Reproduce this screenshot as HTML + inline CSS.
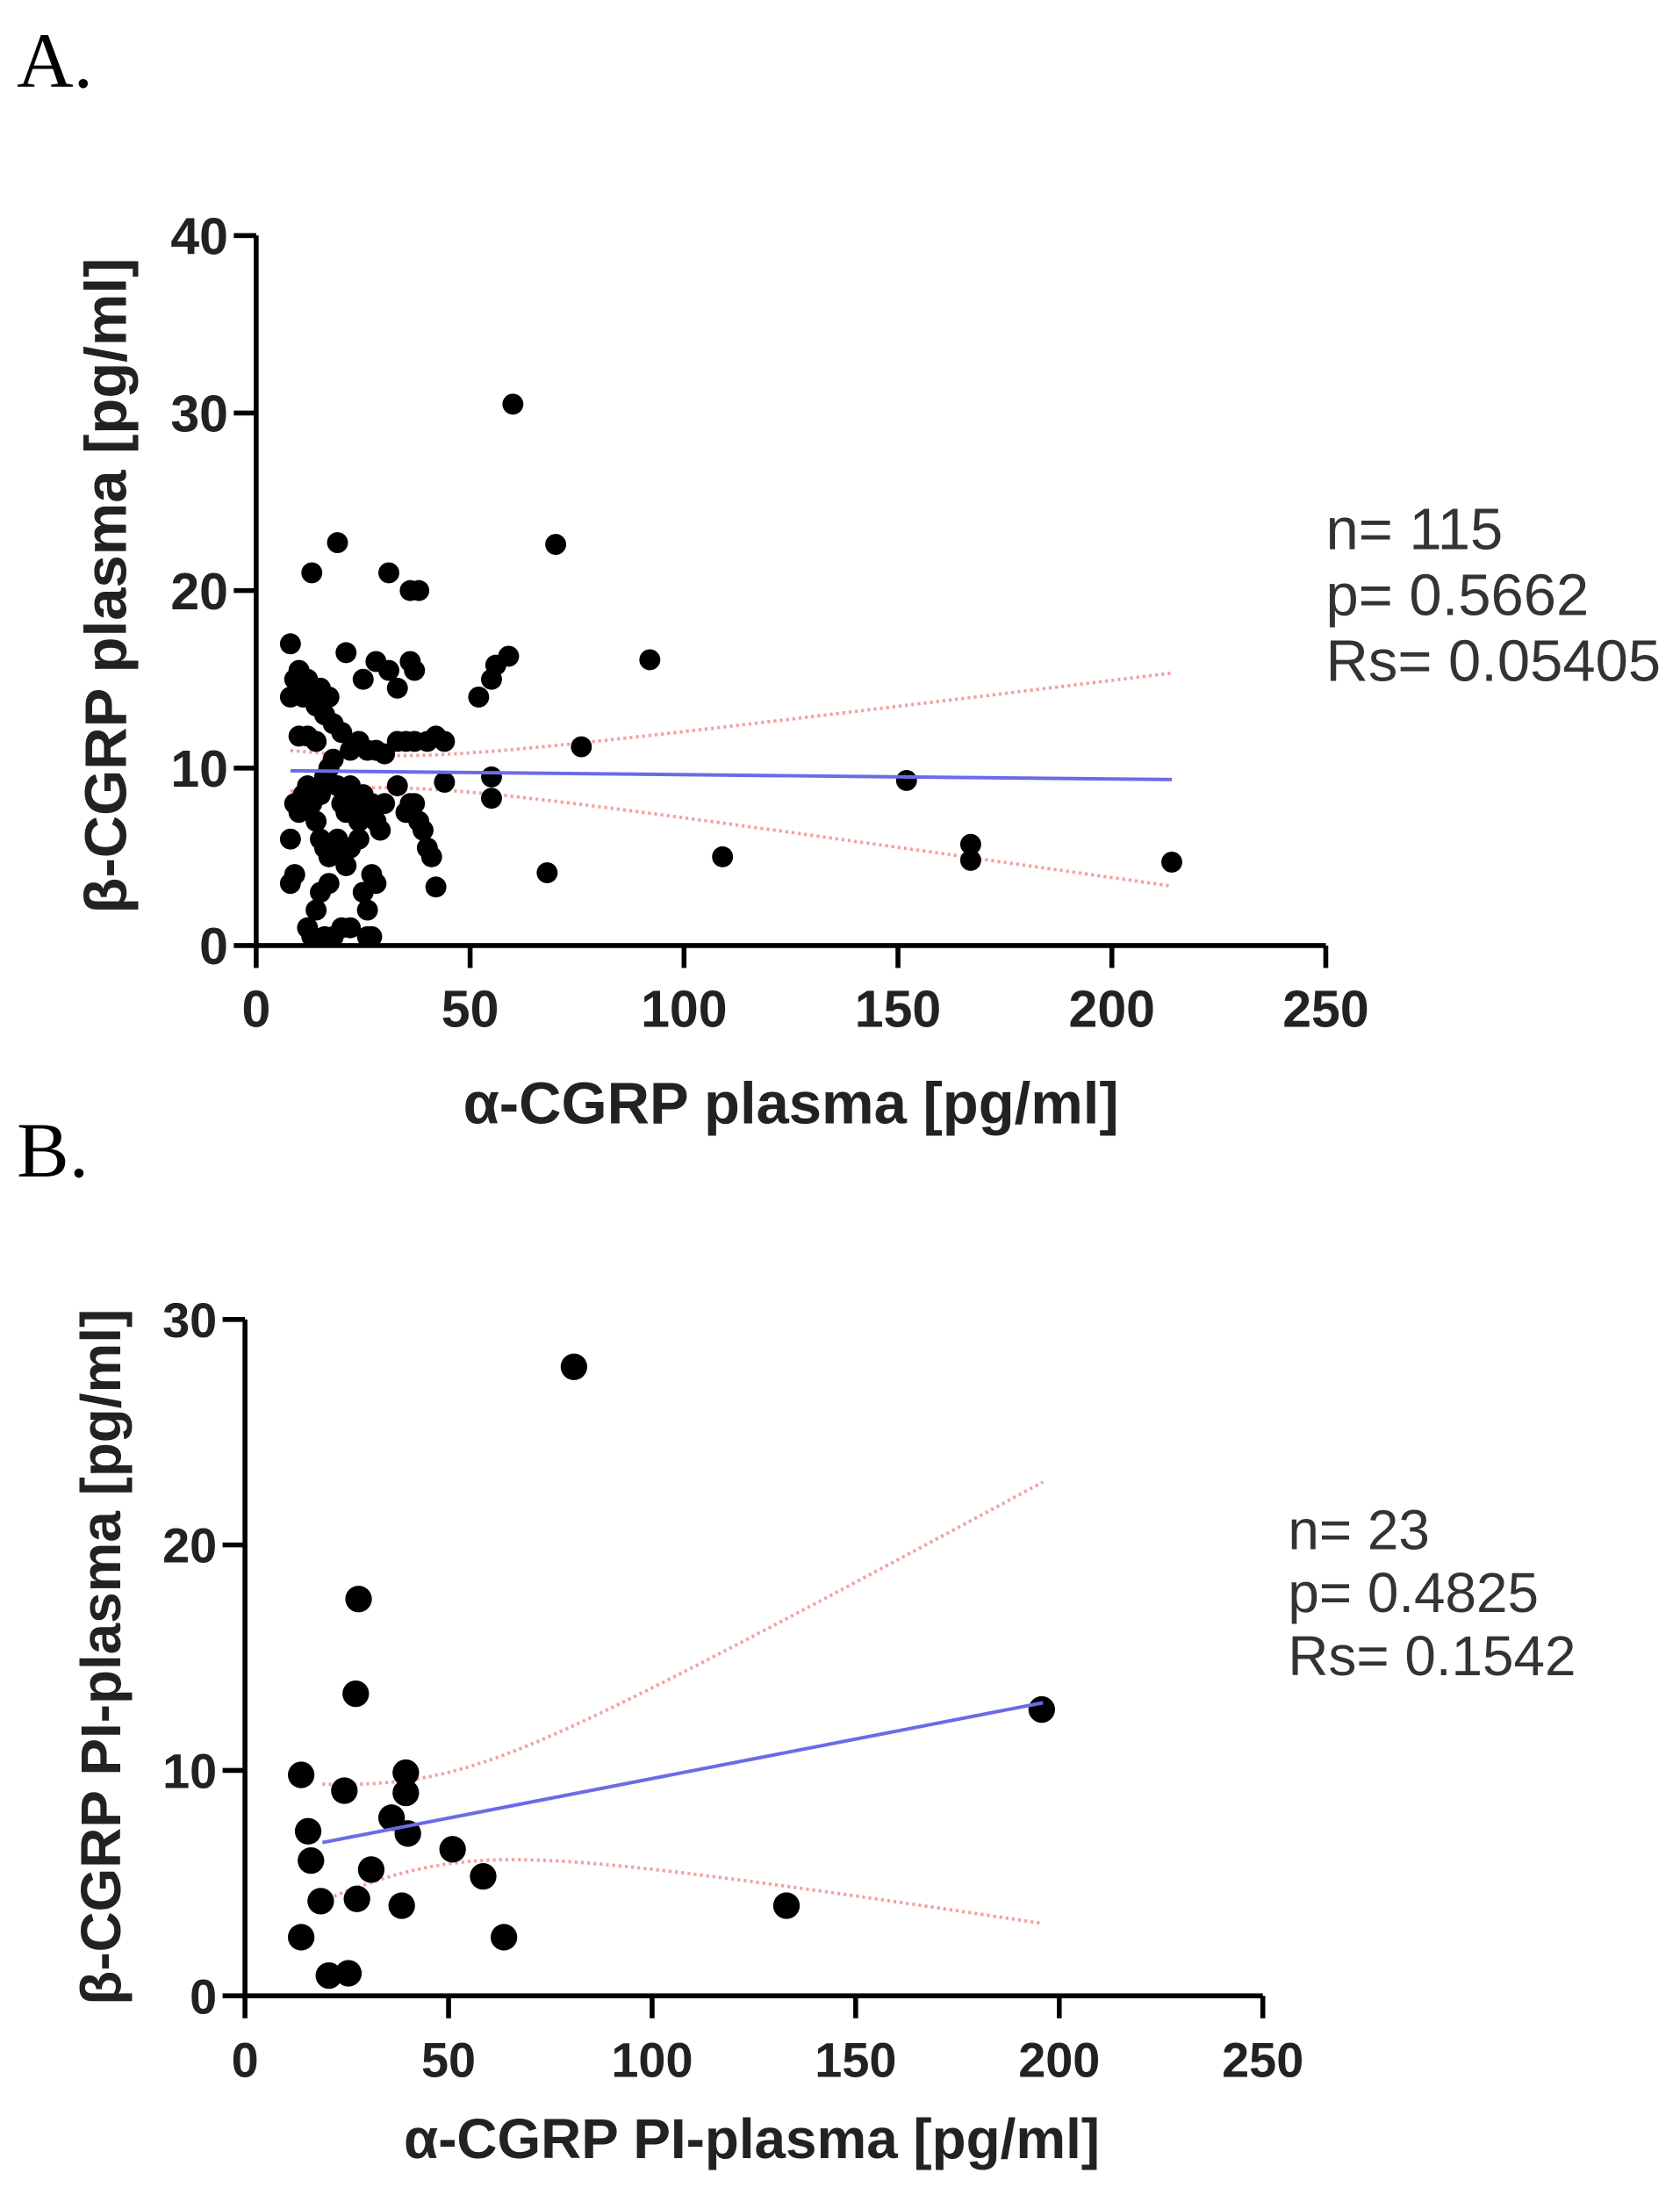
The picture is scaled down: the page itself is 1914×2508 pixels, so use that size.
<!DOCTYPE html>
<html><head><meta charset="utf-8"><style>
html,body{margin:0;padding:0;background:#fff}
svg{display:block}
text{font-family:"Liberation Sans",Arial,sans-serif}
</style></head><body>
<svg id="fig" width="1914" height="2508" viewBox="0 0 1200 1572" xmlns="http://www.w3.org/2000/svg">
<text x="12" y="62" style="font-family:'Liberation Serif',serif" font-size="56">A.</text>
<text x="12" y="840" style="font-family:'Liberation Serif',serif" font-size="56">B.</text>
<g id="chartA"></g>
<g id="chartB"></g>
</svg>
<script>
const aX=[8,8,9,10,11,12,13,14,15,16,17,18,12,14,10,20,22,24,26,28,30,9,10,11,12,13,14,15,16,17,18,19,20,21,22,23,24,25,26,27,28,29,30,8,9,8,15,16,17,19,20,21,22,24,15,17,27,28,25,14,12,13,16,18,20,22,26,27,26,13,19,31,36,38,21,25,28,31,33,36,37,33,35,37,40,42,44,33,35,36,37,38,39,40,41,42,44,52,55,56,59,55,55,60,70,92,76,68,109,152,167,167,214];
const aY=[17,14,15,15.5,14,15,14.5,13.5,14.5,13,14,12.5,11.8,11.5,11.8,12,11,11.5,11,11,10.8,8,7.5,8.5,9,8,7,8.5,9.5,10,10.5,9,8,7.5,9,8,7,8.5,7.5,8,7,6.5,8,6,4,3.5,6,5.5,5,6,5,4.5,5.5,6,3,3.5,4,3.5,3,2,1,0.5,0.5,0.5,1,1,0.5,0.5,2,21,22.7,21,20,20,16.5,15,16,15.5,14.5,16,15.5,11.5,11.5,11.5,11.5,11.8,11.5,9,7.5,8,8,7,6.5,5.5,5,3.3,9.2,14,15,15.8,16.3,9.5,8.3,30.5,22.6,16.1,11.2,4.1,5,9.3,5.7,4.8,4.7];
const aFit=[[8,9.85],[214,9.35]];
const aTicksX=[0,50,100,150,200,250];
const aTicksY=[0,10,20,30,40];
const aStats=["n= 115","p= 0.5662","Rs= 0.05405"];
const bX=[13.8,24.4,39.5,39.5,15.5,16.2,18.6,13.8,20.6,25.4,27.9,27.2,80.8,195.7,133,36,40,31,27.5,38.5,51,58.5,63.6];
const bY=[9.8,9.1,9.9,9.0,7.3,6.0,4.2,2.6,0.9,1.0,17.6,13.4,27.9,12.7,4.0,7.9,7.2,5.6,4.3,4.0,6.5,5.3,2.6];
const bFit=[[19,6.8],[196,13]];
const bTicksX=[0,50,100,150,200,250];
const bTicksY=[0,10,20,30];
const bStats=["n= 23","p= 0.4825","Rs= 0.1542"];
const NS="http://www.w3.org/2000/svg";
function mk(p,t,a){const e=document.createElementNS(NS,t);for(const k in a)e.setAttribute(k,a[k]);p.appendChild(e);return e;}
function draw(g,o){
  const sx=v=>o.x0+(v-0)/o.xmax*(o.x1-o.x0);
  const sy=v=>o.y0-(v/o.ymax)*(o.y0-o.y1);
  const fy=x=>o.fit[0][1]+(x-o.fit[0][0])*(o.fit[1][1]-o.fit[0][1])/(o.fit[1][0]-o.fit[0][0]);
  const w=x=>Math.sqrt(o.w0+o.c*(x-o.xm)*(x-o.xm));
  for(const s of [1,-1]){let d="";for(let i=0;i<=40;i++){const x=o.fit[0][0]+i*(o.fit[1][0]-o.fit[0][0])/40;d+=(i?"L":"M")+sx(x)+","+sy(fy(x)+s*w(x));}
    const p=mk(g,"path",{d:d,fill:"none",stroke:"#f4a0a0","stroke-width":2.4,"stroke-dasharray":"2,2.5"});
    
    }
  for(let i=0;i<o.xs.length;i++){const c=mk(g,"circle",{cx:sx(o.xs[i]),cy:sy(o.ys[i]),r:o.r,fill:"#000"});
    
    }
  const l=mk(g,"line",{x1:sx(o.fit[0][0]),y1:sy(o.fit[0][1]),x2:sx(o.fit[1][0]),y2:sy(o.fit[1][1]),stroke:"#6b6be8","stroke-width":2.5});
  
  
  const ax=mk(g,"path",{d:`M${o.x0},${o.y1}V${o.y0}H${o.x1}`,fill:"none",stroke:"#000","stroke-width":3.5});
  
  
  for(const t of o.tx){const x=sx(t);mk(g,"line",{x1:x,y1:o.y0,x2:x,y2:o.y0+16,stroke:"#000","stroke-width":3.5});
    const tt=mk(g,"text",{x:x,y:o.y0+58,"font-size":o.fs,"font-weight":"bold","text-anchor":"middle",fill:"#222"});tt.textContent=t;
    
    }
  for(const t of o.ty){const y=sy(t);mk(g,"line",{x1:o.x0-16,y1:y,x2:o.x0,y2:y,stroke:"#000","stroke-width":3.5});
    const tt=mk(g,"text",{x:o.x0-20,y:y+o.fs*0.36,"font-size":o.fs,"font-weight":"bold","text-anchor":"end",fill:"#222"});tt.textContent=t;
    
    }
  const xl=mk(g,"text",{x:o.xlx,y:o.xly,"font-size":o.lfs,"font-weight":"bold","text-anchor":"middle",fill:"#222"});xl.textContent=o.xl;
  
  
  const yl=mk(g,"text",{x:0,y:0,"font-size":o.ylfs,"font-weight":"bold","text-anchor":"middle",fill:"#222",transform:`translate(${o.ylx},${o.yly}) rotate(-90)`});yl.textContent=o.yl;
  
  
  o.stats.forEach((s,i)=>{const st=mk(g,"text",{x:o.stx,y:o.sty+i*o.sdy,"font-size":o.sfs,fill:"#333"});st.textContent=s;
    
    });
}
draw(document.getElementById("chartA"),{x0:183,x1:947,xmax:250,y0:675,y1:168,ymax:40,xs:aX,ys:aY,r:7.5,fit:aFit,w0:0.81,c:0.00104,xm:30,
  tx:aTicksX,ty:aTicksY,fs:37,lfs:42,ylfs:42,xl:"α-CGRP plasma [pg/ml]",xlx:565,xly:802,yl:"β-CGRP plasma [pg/ml]",ylx:90,yly:418,
  stats:aStats,stx:947,sty:392,sdy:47,sfs:42});
draw(document.getElementById("chartB"),{x0:175,x1:902,xmax:250,y0:1425,y1:942,ymax:30,xs:bX,ys:bY,r:9.5,fit:bFit,w0:4,c:0.00403,xm:45,
  tx:bTicksX,ty:bTicksY,fs:35,lfs:40,ylfs:40,xl:"α-CGRP PI-plasma [pg/ml]",xlx:537,xly:1541,yl:"β-CGRP PI-plasma [pg/ml]",ylx:86,yly:1183,
  stats:bStats,stx:920,sty:1106,sdy:45,sfs:40});
</script>
</body></html>
